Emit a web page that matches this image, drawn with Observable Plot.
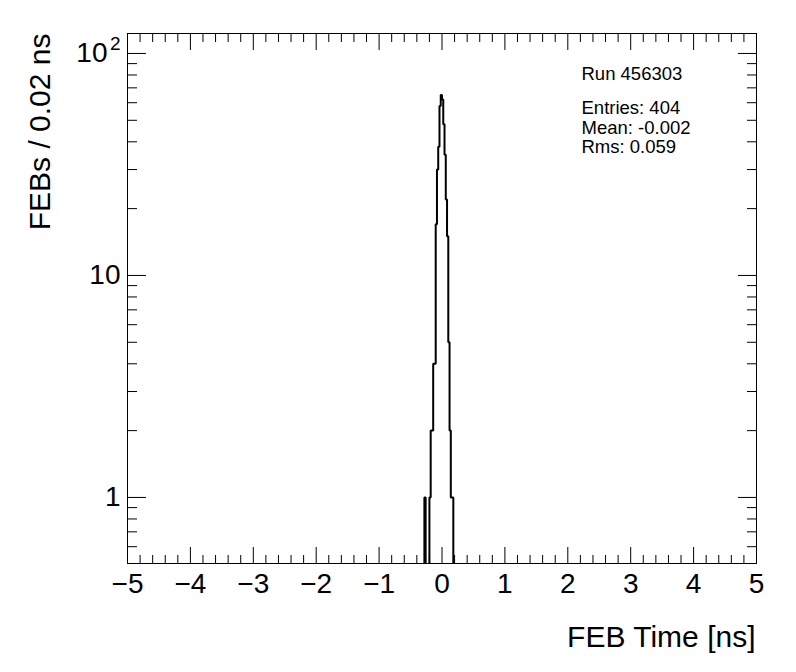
<!DOCTYPE html>
<html>
<head>
<meta charset="utf-8">
<script src="https://cdn.jsdelivr.net/npm/d3@7"></script>
<script src="https://cdn.jsdelivr.net/npm/@observablehq/plot@0.6"></script>
<style>
  html, body { margin: 0; padding: 0; background: #fff; }
  svg { display: block; }
</style>
</head>
<body>
<div id="chart"></div>
<script>
// Histogram: 500 bins of 0.02 ns from -5 to 5; non-empty bins listed here
const binLowEdges = [-0.28, -0.20, -0.18, -0.16, -0.14, -0.12, -0.10, -0.08, -0.06, -0.04, -0.02, 0.00, 0.02, 0.04, 0.06, 0.08, 0.10, 0.12, 0.14, 0.16];
const binCounts   = [1,     1,     2,     2,     4,     4,     17,    30,    38,    58,    65,    62,    48,   35,   22,   15,   5,    2,    1,    1];
const binWidth = 0.02;
const xMin = -5, xMax = 5;
const yDomain = [0.504, 123];

const xMajorTicks = [-5, -4, -3, -2, -1, 0, 1, 2, 3, 4, 5];
const xMinorTicks = d3.range(-50, 51, 2).map(v => v / 10).filter(v => !Number.isInteger(v));
const yMajorTicks = [1, 10, 100];
const yMinorTicks = [0.6, 0.7, 0.8, 0.9, 2, 3, 4, 5, 6, 7, 8, 9, 20, 30, 40, 50, 60, 70, 80, 90];
const yPlainLabels = [1, 10];        // labels written plainly
const yPowerLabel = {value: 100, base: "10", exp: "2"};

const statsLines = ["Run 456303", "Entries: 404", "Mean: -0.002", "Rms: 0.059"];
const xTitle = "FEB Time [ns]";
const yTitle = "FEBs / 0.02 ns";

// build full histogram outline (zero bins drawn below the log floor, clipped)
const nBins = Math.round((xMax - xMin) / binWidth);
const counts = new Array(nBins).fill(0);
binLowEdges.forEach((e, i) => {
  const k = Math.round((e - xMin) / binWidth);
  counts[k] = binCounts[i];
});
const floorVal = 0.3;
const outline = [];
counts.forEach((c, k) => {
  const x0 = xMin + k * binWidth;
  const v = c > 0 ? c : floorVal;
  outline.push({x: x0, y: v});
  outline.push({x: x0 + binWidth, y: v});
});

const font = "'Liberation Sans', Arial, Helvetica, sans-serif";

const chart = Plot.plot({
  width: 796,
  height: 672,
  marginLeft: 127,
  marginRight: 40,
  marginTop: 33,
  marginBottom: 109,
  style: {fontFamily: font, background: "#fff", color: "#000"},
  x: {domain: [xMin, xMax]},
  y: {type: "log", domain: yDomain},
  marks: [
    Plot.line(outline, {x: "x", y: "y", stroke: "#000", strokeWidth: 2, clip: true, strokeLinejoin: "miter"}),
    // ticks bottom/top
    Plot.axisX({anchor: "bottom", ticks: xMajorTicks, tickSize: -16, text: null, label: null}),
    Plot.axisX({anchor: "bottom", ticks: xMinorTicks, tickSize: -8, text: null, label: null}),
    Plot.axisX({anchor: "top", ticks: xMajorTicks, tickSize: -16, text: null, label: null}),
    Plot.axisX({anchor: "top", ticks: xMinorTicks, tickSize: -8, text: null, label: null}),
    Plot.axisX({anchor: "bottom", ticks: xMajorTicks, tickSize: 0, tickPadding: 10, fontSize: 28, label: null, tickFormat: d => d < 0 ? "\u2212" + Math.abs(d) : String(d)}),
    // ticks left/right
    Plot.axisY({anchor: "left", ticks: yMajorTicks, tickSize: -19, text: null, label: null}),
    Plot.axisY({anchor: "left", ticks: yMinorTicks, tickSize: -10, text: null, label: null}),
    Plot.axisY({anchor: "right", ticks: yMajorTicks, tickSize: -19, text: null, label: null}),
    Plot.axisY({anchor: "right", ticks: yMinorTicks, tickSize: -10, text: null, label: null}),
    Plot.axisY({anchor: "left", ticks: yPlainLabels, tickSize: 0, tickPadding: 7, fontSize: 28, label: null, tickFormat: d => String(d)}),
    Plot.text([yPowerLabel], {y: "value", frameAnchor: "left", text: "base", textAnchor: "end", dx: -20, fontSize: 28, lineAnchor: "middle"}),
    Plot.text([yPowerLabel], {y: "value", frameAnchor: "left", text: "exp", textAnchor: "end", dx: -7, dy: -10, fontSize: 19, lineAnchor: "middle"}),
    Plot.frame({stroke: "#000", strokeWidth: 1}),
    // axis titles
    Plot.text([xTitle], {frameAnchor: "bottom-right", text: d => d, textAnchor: "end", dx: -1, dy: 74, fontSize: 30, lineAnchor: "middle"}),
    Plot.text([yTitle], {frameAnchor: "top-left", text: d => d, rotate: -90, textAnchor: "end", dx: -87, dy: 0, fontSize: 30, lineAnchor: "middle"}),
    // stats box text
    Plot.text([statsLines[0]], {frameAnchor: "top-left", text: d => d, textAnchor: "start", dx: 454, dy: 41, fontSize: 18.5, lineAnchor: "middle"}),
    Plot.text([statsLines[1]], {frameAnchor: "top-left", text: d => d, textAnchor: "start", dx: 454, dy: 75, fontSize: 18.5, lineAnchor: "middle"}),
    Plot.text([statsLines[2]], {frameAnchor: "top-left", text: d => d, textAnchor: "start", dx: 454, dy: 95, fontSize: 18.5, lineAnchor: "middle"}),
    Plot.text([statsLines[3]], {frameAnchor: "top-left", text: d => d, textAnchor: "start", dx: 454, dy: 114, fontSize: 18.5, lineAnchor: "middle"})
  ]
});
document.getElementById("chart").appendChild(chart);
</script>
</body>
</html>
